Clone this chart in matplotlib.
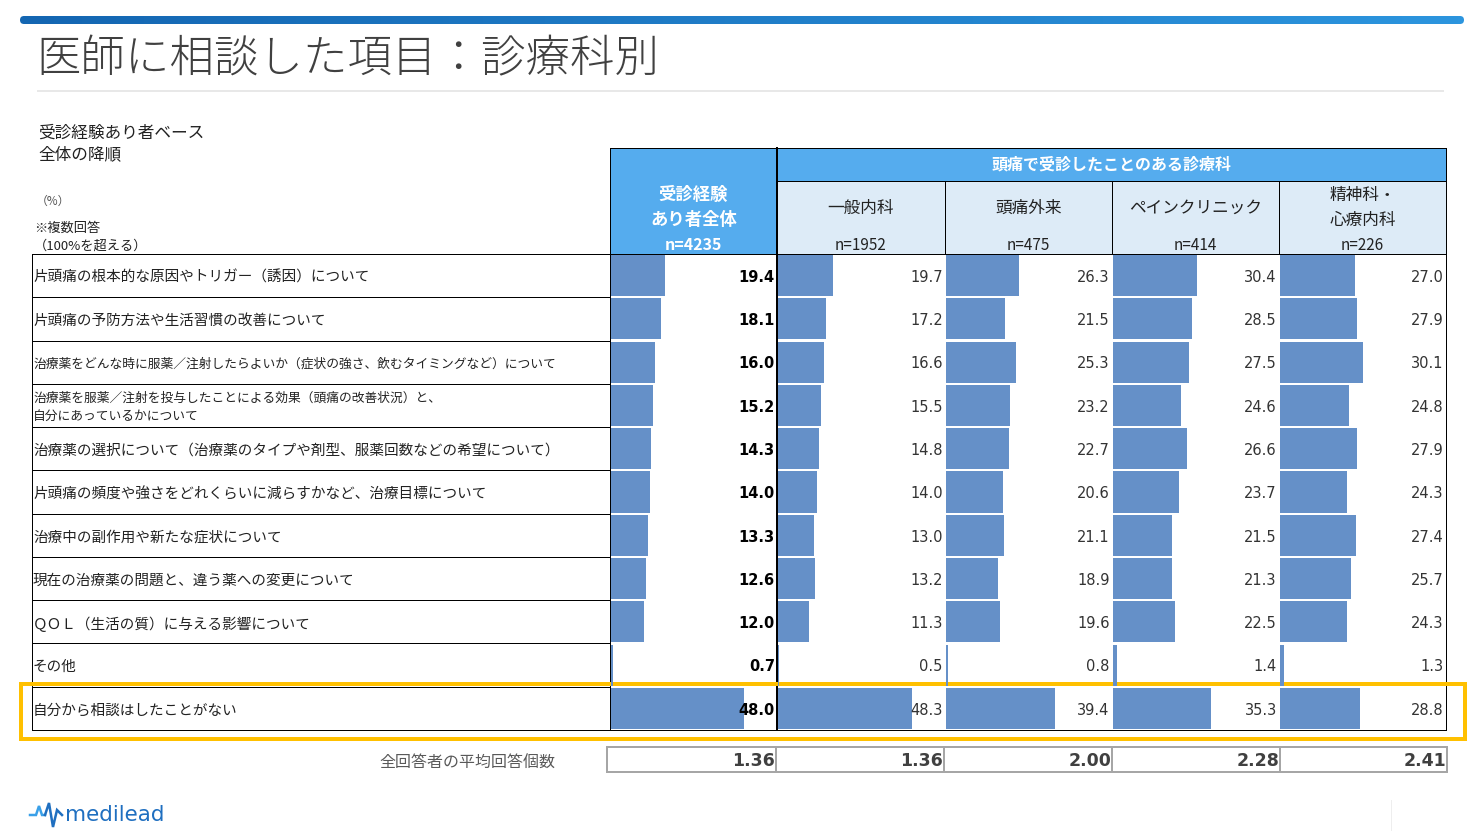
import numpy as np
import matplotlib
matplotlib.use('Agg')
import matplotlib.pyplot as plt
from matplotlib.patches import Rectangle, FancyBboxPatch
from matplotlib.colors import LinearSegmentedColormap

plt.rcParams['font.family'] = ['Noto Sans CJK JP', 'DejaVu Sans']

# data
items = [
    '片頭痛の根本的な原因やトリガー（誘因）について',
    '片頭痛の予防方法や生活習慣の改善について',
    '治療薬をどんな時に服薬／注射したらよいか（症状の強さ、飲むタイミングなど）について',
    '治療薬を服薬／注射を投与したことによる効果（頭痛の改善状況）と、\n自分にあっているかについて',
    '治療薬の選択について（治療薬のタイプや剤型、服薬回数などの希望について）',
    '片頭痛の頻度や強さをどれくらいに減らすかなど、治療目標について',
    '治療中の副作用や新たな症状について',
    '現在の治療薬の問題と、違う薬への変更について',
    'ＱＯＬ（生活の質）に与える影響について',
    'その他',
    '自分から相談はしたことがない',
]
small_items = [2, 3]

overall  = [19.4, 18.1, 16.0, 15.2, 14.3, 14.0, 13.3, 12.6, 12.0, 0.7, 48.0]
general  = [19.7, 17.2, 16.6, 15.5, 14.8, 14.0, 13.0, 13.2, 11.3, 0.5, 48.3]
headache = [26.3, 21.5, 25.3, 23.2, 22.7, 20.6, 21.1, 18.9, 19.6, 0.8, 39.4]
pain     = [30.4, 28.5, 27.5, 24.6, 26.6, 23.7, 21.5, 21.3, 22.5, 1.4, 35.3]
psych    = [27.0, 27.9, 30.1, 24.8, 27.9, 24.3, 27.4, 25.7, 24.3, 1.3, 28.8]
series = [overall, general, headache, pain, psych]

col_names = ['受診経験\nあり者全体', '一般内科', '頭痛外来', 'ペインクリニック', '精神科・\n心療内科']
col_n = ['n=4235', 'n=1952', 'n=475', 'n=414', 'n=226']
avg_counts = [1.36, 1.36, 2.00, 2.28, 2.41]

W, H = 1482, 831
fig = plt.figure(figsize=(W / 100, H / 100), dpi=100)
ax = fig.add_axes([0, 0, 1, 1])
ax.set_xlim(0, W)
ax.set_ylim(H, 0)
ax.axis('off')

PX = 0.72
DY = 2  # CJK text sits a little high with va='center'
BAR = '#6590c8'
HEAD = '#55acee'
SUB = '#ddebf7'

# top gradient bar
cmap = LinearSegmentedColormap.from_list('g', ['#1466b2', '#2c95de'])
im = ax.imshow(np.linspace(0, 1, 256).reshape(1, -1), extent=[20, 1464, 24, 16],
               aspect='auto', cmap=cmap, zorder=1)
clip = FancyBboxPatch((20, 16), 1444, 8, boxstyle='round,pad=0,rounding_size=4',
                      fc='none', ec='none', transform=ax.transData)
ax.add_patch(clip)
im.set_clip_path(clip)
ax.set_xlim(0, W)
ax.set_ylim(H, 0)

ax.text(36, 57 + 3, '医師に相談した項目：診療科別', fontsize=32, color='#404040',
        va='center', ha='left', fontweight='light')
ax.plot([38, 1443], [91, 91], color='#e8e8e8', lw=2 * PX)

ax.text(38, 131 + DY, '受診経験あり者ベース', fontsize=12, color='#222', va='center')
ax.text(38, 153 + DY, '全体の降順', fontsize=12, color='#222', va='center')
ax.text(36, 199 + DY, '（%）', fontsize=8.5, color='#555', va='center')
ax.text(34, 226 + DY, '※複数回答', fontsize=9.5, color='#222', va='center')
ax.text(34, 244 + DY, '（100%を超える）', fontsize=9.5, color='#222', va='center')

# table geometry
col_x = [610, 777, 945, 1112, 1279, 1446]
top, sub_top, data_top, data_bot = 148, 181, 254, 730
nrow = len(items)
row_h = (data_bot - data_top) / nrow

# header fills
ax.add_patch(Rectangle((610, top), 167, data_top - top, fc=HEAD, ec='none'))
ax.add_patch(Rectangle((777, top), 1446 - 777, sub_top - top, fc=HEAD, ec='none'))
ax.add_patch(Rectangle((777, sub_top), 1446 - 777, data_top - sub_top, fc=SUB, ec='none'))

ax.text(693.5, 193 + DY, '受診経験', fontsize=12.5, color='white', fontweight='bold', ha='center', va='center')
ax.text(693.5, 218 + DY, 'あり者全体', fontsize=12.5, color='white', fontweight='bold', ha='center', va='center')
ax.text(693.5, 243 + DY, col_n[0], fontsize=11.5, color='white', fontweight='bold', ha='center', va='center')
ax.text(1111.5, 163 + DY, '頭痛で受診したことのある診療科', fontsize=11.5, color='white',
        fontweight='bold', ha='center', va='center')
for j in range(1, 5):
    cx = (col_x[j] + col_x[j + 1]) / 2
    lines = col_names[j].split('\n')
    if len(lines) == 1:
        ax.text(cx, 206 + DY, lines[0], fontsize=12, color='#222', ha='center', va='center')
    else:
        ax.text(cx, 193 + DY, lines[0], fontsize=12, color='#222', ha='center', va='center')
        ax.text(cx, 218 + DY, lines[1], fontsize=12, color='#222', ha='center', va='center')
    ax.text(cx, 243 + DY, col_n[j], fontsize=11, color='#222', ha='center', va='center')

# table lines
k = dict(color='black', lw=1 * PX, zorder=5)
ax.plot([610, 1446], [top, top], **k)
ax.plot([777, 1446], [sub_top, sub_top], **k)
for x in col_x[2:5]:
    ax.plot([x, x], [sub_top, data_top], **k)
ax.plot([610, 610], [top, data_bot], **k)
ax.plot([1446, 1446], [top, data_bot], **k)
ax.plot([777, 777], [top, data_bot], color='black', lw=2 * PX, zorder=5)
ax.plot([32, 32], [data_top, data_bot], **k)
for i in range(nrow + 1):
    y = data_top + i * row_h
    ax.plot([32, 610], [y, y], **k)
ax.plot([32, 1446], [data_top, data_top], **k)
ax.plot([32, 1446], [data_bot, data_bot], **k)

# row labels
for i, lab in enumerate(items):
    yc = data_top + (i + 0.5) * row_h + DY
    fs = 9.2 if i in small_items else 10.5
    ax.text(33, yc, lab, fontsize=fs, color='#222', va='center', ha='left', linespacing=1.5)

# bar columns
for j, vals in enumerate(series):
    left = (col_x[j] + 1) / W
    cax = fig.add_axes([left, 1 - data_bot / H, (col_x[j + 1] - col_x[j] - 1) / W,
                        (data_bot - data_top) / H])
    cax.set_facecolor('none')
    cax.set_xlim(0, 60)
    cax.set_ylim(nrow - 0.5, -0.5)
    cax.axis('off')
    cax.barh(range(nrow), vals, height=0.95, color=BAR)
    for i, v in enumerate(vals):
        cax.text(59.2, i + 0.04, '%.1f' % v, ha='right', va='center', family='DejaVu Sans',
                 fontsize=10.5, color='black' if j == 0 else '#333',
                 fontweight='bold' if j == 0 else 'normal')

# highlight frame
ax.add_patch(Rectangle((21, 684), 1444, 55, fc='none', ec='#ffc000', lw=4 * PX, zorder=6))

# average count row
ax.text(555, 761 + DY, '全回答者の平均回答個数', fontsize=11.5, color='#595959', ha='right', va='center')
avg_x = [607, 776, 944, 1112, 1280, 1447]
ax.add_patch(Rectangle((607, 747), 840, 25, fc='none', ec='#a6a6a6', lw=2 * PX))
for x in avg_x[1:5]:
    ax.plot([x, x], [747, 772], color='#a6a6a6', lw=2 * PX)
for j, v in enumerate(avg_counts):
    ax.text(avg_x[j + 1] - 1, 761, '%.2f' % v, family='DejaVu Sans', fontsize=12.5,
            fontweight='bold', color='#404040', ha='right', va='center')

# logo
ax.plot([30, 36, 39, 42, 45], [815, 815, 806, 815, 815], color='#3aa0e8', lw=2.5 * PX,
        solid_joinstyle='miter')
ax.plot([45, 49, 53, 57, 62], [815, 803, 827, 810, 815], color='#1f6fc0', lw=2.5 * PX,
        solid_joinstyle='miter')
ax.text(65, 815, 'medilead', family='DejaVu Sans', fontsize=15.5, color='#1f6fc0',
        ha='left', va='center')
ax.plot([1391, 1391], [800, 831], color='#eeeeee', lw=1 * PX)

fig.savefig('out.png', dpi=100)
